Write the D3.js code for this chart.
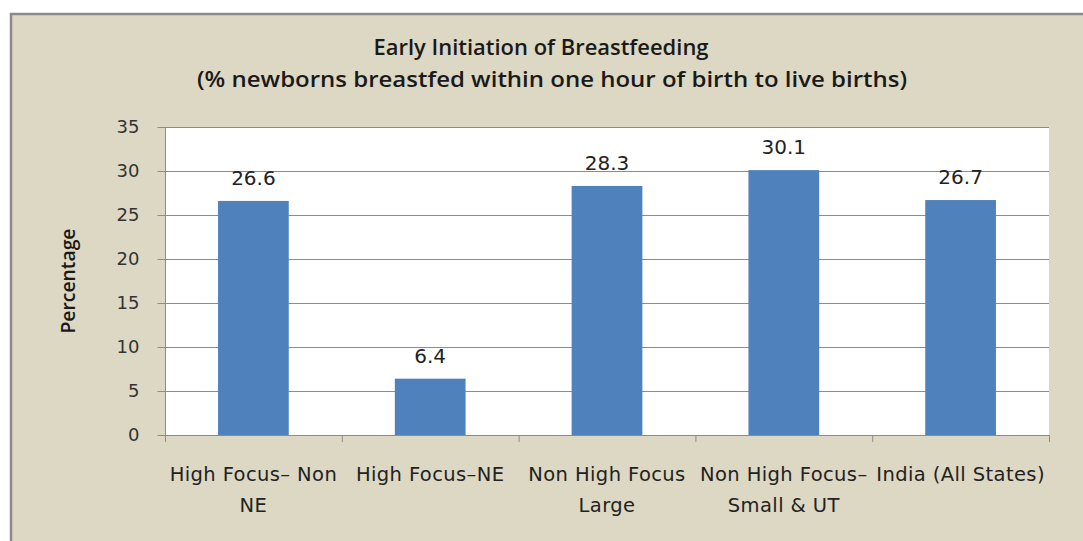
<!DOCTYPE html>
<html>
<head>
<meta charset="utf-8">
<script src="https://cdn.jsdelivr.net/npm/d3@7"></script>
<style>
  html, body { margin: 0; padding: 0; background: #fff; }
  svg { display: block; }
</style>
</head>
<body>
<svg id="chart" width="1083" height="541"></svg>
<script>
// chart data
const categories = ["High Focus– Non NE", "High Focus–NE", "Non High Focus Large", "Non High Focus– Small & UT", "India (All States)"];
const categoryLines = [["High Focus– Non", "NE"], ["High Focus–NE"], ["Non High Focus", "Large"], ["Non High Focus–", "Small & UT"], ["India (All States)"]];
const values = [26.6, 6.4, 28.3, 30.1, 26.7];
const yTicks = [0, 5, 10, 15, 20, 25, 30, 35];
const titleLines = ["Early Initiation of Breastfeeding", "(% newborns breastfed within one hour of birth to live births)"];

const width = 1083, height = 541;
const plot = { left: 165, right: 1049, top: 127, bottom: 435 };
const labelFont = "DejaVu Sans, Verdana, sans-serif";
const titleFont = "'Open Sans', 'Noto Sans', sans-serif";

const svg = d3.select("#chart");

// outer chart area
svg.append("rect")
  .attr("x", 11).attr("y", 14)
  .attr("width", width + 20).attr("height", height + 20)
  .attr("fill", "#ddd8c3")
  .attr("stroke", "#8a8a8a")
  .attr("stroke-width", 2.5);

// plot background
svg.append("rect")
  .attr("x", plot.left).attr("y", plot.top)
  .attr("width", plot.right - plot.left).attr("height", plot.bottom - plot.top)
  .attr("fill", "#ffffff");

const x = d3.scaleBand()
  .domain(categories)
  .range([plot.left, plot.right])
  .paddingInner(0.6)
  .paddingOuter(0.3);

const y = d3.scaleLinear()
  .domain([0, 35])
  .range([plot.bottom, plot.top]);

// gridlines
svg.append("g")
  .selectAll("line")
  .data(yTicks.filter(d => d > 0))
  .join("line")
  .attr("x1", plot.left).attr("x2", plot.right)
  .attr("y1", d => y(d) + 0.5).attr("y2", d => y(d) + 0.5)
  .attr("stroke", "#8c8c8c")
  .attr("stroke-width", 1);

// bars
svg.append("g")
  .selectAll("rect")
  .data(values)
  .join("rect")
  .attr("x", (d, i) => x(categories[i]))
  .attr("y", d => y(d))
  .attr("width", x.bandwidth())
  .attr("height", d => y(0) - y(d))
  .attr("fill", "#4f81bd");

// value labels
svg.append("g")
  .selectAll("text")
  .data(values)
  .join("text")
  .attr("x", (d, i) => x(categories[i]) + x.bandwidth() / 2)
  .attr("y", d => y(d) - 16)
  .attr("text-anchor", "middle")
  .attr("font-family", labelFont)
  .attr("font-size", 20)
  .attr("fill", "#222")
  .text(d => d.toFixed(1));

// y axis
const yAxis = d3.axisLeft(y).tickValues(yTicks).tickSize(8).tickPadding(18).tickFormat(d3.format("d"));
const gy = svg.append("g")
  .attr("transform", `translate(${plot.left + 0.5},0)`)
  .call(yAxis);
gy.select(".domain").attr("stroke", "#8c8c8c").attr("d", `M0,${plot.top}V${plot.bottom + 1}`);
gy.selectAll(".tick line").attr("stroke", "#8c8c8c");
gy.selectAll(".tick text")
  .attr("font-family", labelFont)
  .attr("font-size", 18)
  .attr("fill", "#333");

// x axis line and ticks at category boundaries
const boundaries = d3.range(categories.length + 1).map(i => plot.left + i * (plot.right - plot.left) / categories.length);
svg.append("line")
  .attr("x1", plot.left).attr("x2", plot.right)
  .attr("y1", plot.bottom + 0.5).attr("y2", plot.bottom + 0.5)
  .attr("stroke", "#8c8c8c");
svg.append("g")
  .selectAll("line")
  .data(boundaries)
  .join("line")
  .attr("x1", d => d + 0.5).attr("x2", d => d + 0.5)
  .attr("y1", plot.bottom).attr("y2", plot.bottom + 7)
  .attr("stroke", "#8c8c8c");

// category labels
const xl = svg.append("g")
  .selectAll("text")
  .data(categoryLines)
  .join("text")
  .attr("x", (d, i) => x(categories[i]) + x.bandwidth() / 2)
  .attr("y", 481)
  .attr("text-anchor", "middle")
  .attr("font-family", labelFont)
  .attr("font-size", 19.5)
  .attr("letter-spacing", 0.4)
  .attr("fill", "#222");
xl.selectAll("tspan")
  .data((d, i) => d.map(t => ({ t, cx: x(categories[i]) + x.bandwidth() / 2 })))
  .join("tspan")
  .attr("x", d => d.cx)
  .attr("dy", (d, j) => j === 0 ? 0 : 31)
  .text(d => d.t);

// title
const titleWidths = [335, 710];
const titleX = [541, 552];
const titleY = [55, 87];
titleLines.forEach((t, i) => {
  svg.append("text")
    .attr("x", titleX[i])
    .attr("y", titleY[i])
    .attr("text-anchor", "middle")
    .attr("font-family", titleFont)
    .attr("font-weight", 600)
    .attr("font-size", 21)
    .attr("textLength", titleWidths[i])
    .attr("lengthAdjust", "spacingAndGlyphs")
    .attr("fill", "#1a1a1a")
    .text(t);
});

// y axis title
svg.append("text")
  .attr("transform", "translate(75,281) rotate(-90)")
  .attr("text-anchor", "middle")
  .attr("font-family", titleFont)
  .attr("font-weight", 600)
  .attr("font-size", 20)
  .attr("textLength", 105)
  .attr("lengthAdjust", "spacingAndGlyphs")
  .attr("fill", "#1a1a1a")
  .text("Percentage");
</script>
</body>
</html>
